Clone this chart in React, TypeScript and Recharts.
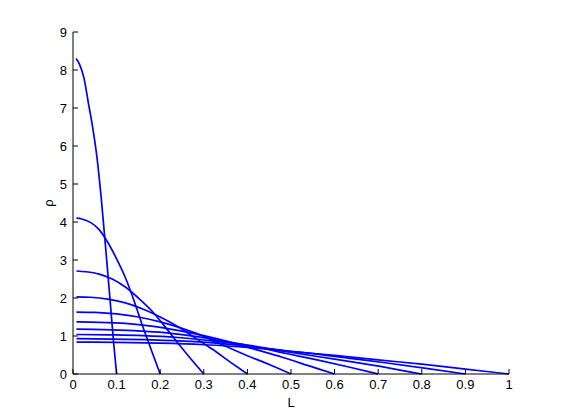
import { LineChart, Line, XAxis, YAxis } from "recharts";

// tick values
const xTicks = [0, 0.1, 0.2, 0.3, 0.4, 0.5, 0.6, 0.7, 0.8, 0.9, 1];
const yTicks = [0, 1, 2, 3, 4, 5, 6, 7, 8, 9];

// one profile per domain length L = 0.1 ... 1
const x01 = [0.007, 0.015, 0.025, 0.035, 0.045, 0.055, 0.065, 0.075, 0.085, 0.093, 0.1];
const rho01 = [8.3, 8.15, 7.8, 7.15, 6.5, 5.7, 4.6, 3.3, 1.95, 0.85, 0];

const x02 = [0.008, 0.02, 0.04, 0.06, 0.08, 0.1, 0.12, 0.14, 0.16, 0.18, 0.2];
const rho02 = [4.1, 4.08, 3.99, 3.8, 3.46, 3.03, 2.54, 1.93, 1.25, 0.62, 0];

const x03 = [0.008, 0.03, 0.06, 0.09, 0.12, 0.15, 0.18, 0.21, 0.24, 0.27, 0.3];
const rho03 = [2.71, 2.69, 2.63, 2.5, 2.29, 2.0, 1.67, 1.26, 0.82, 0.4, 0];

const x04 = [0.008, 0.04, 0.08, 0.12, 0.16, 0.2, 0.24, 0.28, 0.32, 0.36, 0.4];
const rho04 = [2.03, 2.02, 1.97, 1.87, 1.71, 1.5, 1.25, 0.95, 0.65, 0.32, 0];

const x05 = [0.008, 0.05, 0.1, 0.15, 0.2, 0.25, 0.3, 0.35, 0.4, 0.45, 0.5];
const rho05 = [1.63, 1.62, 1.58, 1.5, 1.37, 1.2, 0.99, 0.73, 0.48, 0.25, 0];

const x06 = [0.008, 0.06, 0.12, 0.18, 0.24, 0.3, 0.36, 0.42, 0.48, 0.54, 0.6];
const rho06 = [1.37, 1.36, 1.33, 1.26, 1.15, 1.01, 0.84, 0.64, 0.44, 0.22, 0];

const x07 = [0.008, 0.07, 0.14, 0.21, 0.28, 0.35, 0.42, 0.49, 0.56, 0.63, 0.7];
const rho07 = [1.18, 1.17, 1.14, 1.09, 0.99, 0.86, 0.71, 0.54, 0.37, 0.19, 0];

const x08 = [0.008, 0.08, 0.16, 0.24, 0.32, 0.4, 0.48, 0.56, 0.64, 0.72, 0.8];
const rho08 = [1.04, 1.03, 1.01, 0.96, 0.87, 0.76, 0.61, 0.46, 0.32, 0.17, 0];

const x09 = [0.008, 0.09, 0.18, 0.27, 0.36, 0.45, 0.54, 0.63, 0.72, 0.81, 0.9];
const rho09 = [0.93, 0.92, 0.9, 0.86, 0.78, 0.66, 0.55, 0.42, 0.29, 0.15, 0];

const x10 = [0.008, 0.1, 0.2, 0.3, 0.4, 0.5, 0.6, 0.7, 0.8, 0.9, 1];
const rho10 = [0.84, 0.83, 0.81, 0.77, 0.7, 0.59, 0.49, 0.37, 0.26, 0.13, 0];

const profiles = [
  [x01, rho01],
  [x02, rho02],
  [x03, rho03],
  [x04, rho04],
  [x05, rho05],
  [x06, rho06],
  [x07, rho07],
  [x08, rho08],
  [x09, rho09],
  [x10, rho10],
].map(([xs, ys]) => xs.map((L, i) => ({ L, rho: ys[i] })));

const font = "'Liberation Sans', Arial, sans-serif";

const RhoLabel = (props: any) => {
  const { viewBox } = props;
  const x = viewBox.x + 20;
  const y = viewBox.y + viewBox.height / 2;
  return (
    <text
      x={x}
      y={y}
      transform={`rotate(-90, ${x}, ${y})`}
      textAnchor="middle"
      fontFamily={font}
      fontSize={13}
      fill="#000"
    >
      ρ
    </text>
  );
};

export default function App() {
  return (
    <div style={{ margin: -8, width: 561, height: 420, background: "#fff" }}>
      <LineChart
        width={561}
        height={420}
        margin={{ top: 32, right: 52, left: 33, bottom: 11 }}
      >
        <XAxis
          dataKey="L"
          type="number"
          domain={[0, 1]}
          ticks={xTicks}
          interval={0}
          stroke="#000"
          tickSize={-5}
          tickMargin={11}
          height={35}
          tick={{ fill: "#000", fontSize: 13, fontFamily: font }}
          label={{
            value: "L",
            position: "insideBottom",
            offset: 2,
            fill: "#000",
            fontSize: 13,
            fontFamily: font,
          }}
        />
        <YAxis
          type="number"
          domain={[0, 9]}
          ticks={yTicks}
          interval={0}
          stroke="#000"
          tickSize={-5}
          tickMargin={11}
          width={40}
          tick={{ fill: "#000", fontSize: 13, fontFamily: font }}
          label={<RhoLabel />}
        />
        {profiles.map((data, i) => (
          <Line
            key={i}
            data={data}
            dataKey="rho"
            type="monotone"
            stroke="#0000ff"
            strokeWidth={1.7}
            dot={false}
            activeDot={false}
            isAnimationActive={false}
          />
        ))}
      </LineChart>
    </div>
  );
}
